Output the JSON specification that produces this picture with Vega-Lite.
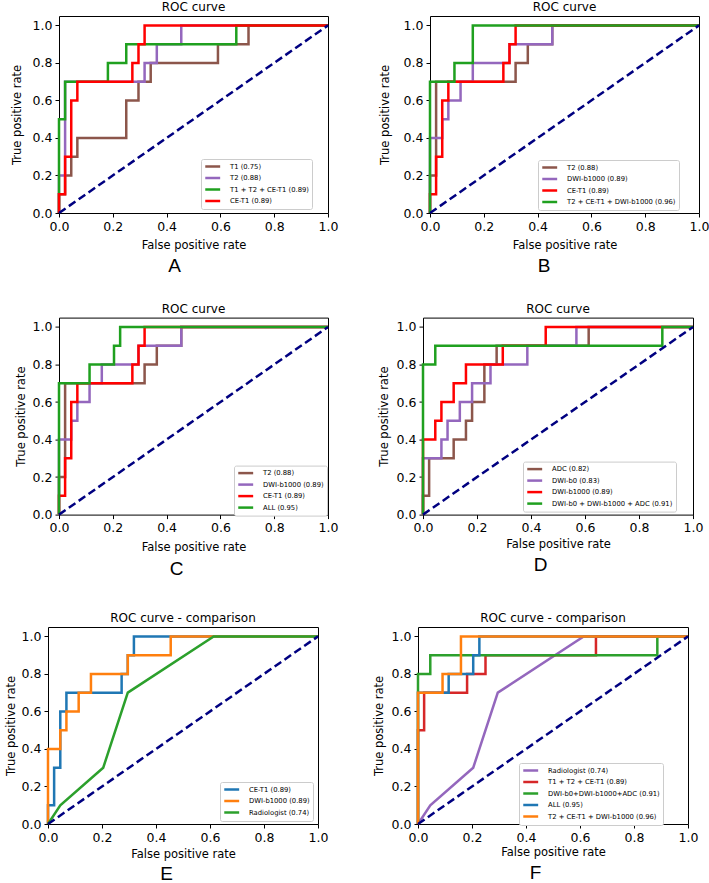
{
"$schema": "https://vega.github.io/schema/vega-lite/v6.json",
"padding": {"left": 0, "top": 0, "right": 0, "bottom": 0},
"background": "white",
"config": {
  "view": {"stroke": "black", "strokeWidth": 1},
  "font": "DejaVu Sans",
  "title": {"font": "DejaVu Sans", "fontSize": 12, "fontWeight": "normal", "color": "black", "offset": 2},
  "axis": {"domain": false, "grid": false, "tickColor": "black", "tickSize": 4, "tickWidth": 1, "labelColor": "black", "labelFont": "DejaVu Sans", "labelFontSize": 12.5, "labelFlush": false, "labelOverlap": false, "labelPadding": 3, "titleFont": "DejaVu Sans", "titleFontSize": 11.5, "titleFontWeight": "normal", "titleColor": "black"},
  "legend": {"orient": "none", "labelFont": "DejaVu Sans", "labelFontSize": 6.8, "labelColor": "black", "strokeColor": "#cccccc", "fillColor": "white", "padding": 3, "cornerRadius": 2, "rowPadding": 0.5, "symbolType": "M-1,0H3.6", "symbolSize": 42, "symbolStrokeWidth": 2.5, "labelOffset": 17, "labelLimit": 300},
  "line": {"strokeWidth": 2.5}
},
"datasets": {
  "T1": [{"fpr":0,"tpr":0},{"fpr":0,"tpr":0.1},{"fpr":0.0227,"tpr":0.1},{"fpr":0.0227,"tpr":0.2},{"fpr":0.0455,"tpr":0.2},{"fpr":0.0455,"tpr":0.3},{"fpr":0.0682,"tpr":0.3},{"fpr":0.0682,"tpr":0.4},{"fpr":0.25,"tpr":0.4},{"fpr":0.25,"tpr":0.6},{"fpr":0.2955,"tpr":0.6},{"fpr":0.2955,"tpr":0.7},{"fpr":0.3409,"tpr":0.7},{"fpr":0.3409,"tpr":0.8},{"fpr":0.5909,"tpr":0.8},{"fpr":0.5909,"tpr":0.9},{"fpr":0.7045,"tpr":0.9},{"fpr":0.7045,"tpr":1},{"fpr":1,"tpr":1}],
  "T2": [{"fpr":0,"tpr":0},{"fpr":0,"tpr":0.2},{"fpr":0.0227,"tpr":0.2},{"fpr":0.0227,"tpr":0.7},{"fpr":0.3182,"tpr":0.7},{"fpr":0.3182,"tpr":0.8},{"fpr":0.3636,"tpr":0.8},{"fpr":0.3636,"tpr":0.9},{"fpr":0.4545,"tpr":0.9},{"fpr":0.4545,"tpr":1},{"fpr":1,"tpr":1}],
  "CET1": [{"fpr":0,"tpr":0},{"fpr":0,"tpr":0.1},{"fpr":0.0227,"tpr":0.1},{"fpr":0.0227,"tpr":0.3},{"fpr":0.0455,"tpr":0.3},{"fpr":0.0455,"tpr":0.6},{"fpr":0.0682,"tpr":0.6},{"fpr":0.0682,"tpr":0.7},{"fpr":0.2727,"tpr":0.7},{"fpr":0.2727,"tpr":0.8},{"fpr":0.2955,"tpr":0.8},{"fpr":0.2955,"tpr":0.9},{"fpr":0.3182,"tpr":0.9},{"fpr":0.3182,"tpr":1},{"fpr":1,"tpr":1}],
  "T1T2CET1": [{"fpr":0,"tpr":0},{"fpr":0,"tpr":0.5},{"fpr":0.0227,"tpr":0.5},{"fpr":0.0227,"tpr":0.7},{"fpr":0.1818,"tpr":0.7},{"fpr":0.1818,"tpr":0.8},{"fpr":0.25,"tpr":0.8},{"fpr":0.25,"tpr":0.9},{"fpr":0.6591,"tpr":0.9},{"fpr":0.6591,"tpr":1},{"fpr":1,"tpr":1}],
  "B1000": [{"fpr":0,"tpr":0},{"fpr":0,"tpr":0.4},{"fpr":0.0455,"tpr":0.4},{"fpr":0.0455,"tpr":0.5},{"fpr":0.0682,"tpr":0.5},{"fpr":0.0682,"tpr":0.6},{"fpr":0.1136,"tpr":0.6},{"fpr":0.1136,"tpr":0.7},{"fpr":0.1591,"tpr":0.7},{"fpr":0.1591,"tpr":0.8},{"fpr":0.2955,"tpr":0.8},{"fpr":0.2955,"tpr":0.9},{"fpr":0.4545,"tpr":0.9},{"fpr":0.4545,"tpr":1},{"fpr":1,"tpr":1}],
  "T2CEB1000": [{"fpr":0,"tpr":0},{"fpr":0,"tpr":0.7},{"fpr":0.0909,"tpr":0.7},{"fpr":0.0909,"tpr":0.8},{"fpr":0.1591,"tpr":0.8},{"fpr":0.1591,"tpr":1},{"fpr":1,"tpr":1}],
  "ALL": [{"fpr":0,"tpr":0},{"fpr":0,"tpr":0.7},{"fpr":0.1136,"tpr":0.7},{"fpr":0.1136,"tpr":0.8},{"fpr":0.2045,"tpr":0.8},{"fpr":0.2045,"tpr":0.9},{"fpr":0.2273,"tpr":0.9},{"fpr":0.2273,"tpr":1},{"fpr":1,"tpr":1}],
  "ADC": [{"fpr":0,"tpr":0},{"fpr":0,"tpr":0.1},{"fpr":0.0227,"tpr":0.1},{"fpr":0.0227,"tpr":0.3},{"fpr":0.1136,"tpr":0.3},{"fpr":0.1136,"tpr":0.4},{"fpr":0.1591,"tpr":0.4},{"fpr":0.1591,"tpr":0.5},{"fpr":0.1818,"tpr":0.5},{"fpr":0.1818,"tpr":0.6},{"fpr":0.2273,"tpr":0.6},{"fpr":0.2273,"tpr":0.8},{"fpr":0.2727,"tpr":0.8},{"fpr":0.2727,"tpr":0.9},{"fpr":0.6136,"tpr":0.9},{"fpr":0.6136,"tpr":1},{"fpr":1,"tpr":1}],
  "B0": [{"fpr":0,"tpr":0},{"fpr":0,"tpr":0.3},{"fpr":0.0682,"tpr":0.3},{"fpr":0.0682,"tpr":0.4},{"fpr":0.0909,"tpr":0.4},{"fpr":0.0909,"tpr":0.5},{"fpr":0.1364,"tpr":0.5},{"fpr":0.1364,"tpr":0.6},{"fpr":0.1818,"tpr":0.6},{"fpr":0.1818,"tpr":0.7},{"fpr":0.25,"tpr":0.7},{"fpr":0.25,"tpr":0.8},{"fpr":0.3864,"tpr":0.8},{"fpr":0.3864,"tpr":0.9},{"fpr":0.5682,"tpr":0.9},{"fpr":0.5682,"tpr":1},{"fpr":1,"tpr":1}],
  "DWICOMB": [{"fpr":0,"tpr":0},{"fpr":0,"tpr":0.8},{"fpr":0.0455,"tpr":0.8},{"fpr":0.0455,"tpr":0.9},{"fpr":0.8864,"tpr":0.9},{"fpr":0.8864,"tpr":1},{"fpr":1,"tpr":1}],
  "RAD": [{"fpr":0,"tpr":0},{"fpr":0.0455,"tpr":0.1},{"fpr":0.2045,"tpr":0.3},{"fpr":0.2955,"tpr":0.7},{"fpr":0.6136,"tpr":1},{"fpr":1,"tpr":1}],
  "DIAG": [{"fpr":0,"tpr":0},{"fpr":1,"tpr":1}]
},
"resolve": {"scale": {"color": "independent"}, "legend": {"color": "independent"}},
"spacing": 32,
"vconcat": [
 {"resolve": {"scale": {"color": "independent"}, "legend": {"color": "independent"}},
  "spacing": 25.6,
  "vconcat": [
   {"resolve": {"scale": {"color": "independent"}, "legend": {"color": "independent"}},
    "spacing": 9,
    "hconcat": [
     {"width": 1, "height": 1, "data": {"values": []}, "mark": "point", "encoding": {}, "view": {"stroke": null}},
     {"resolve": {"scale": {"color": "independent"}, "legend": {"color": "independent"}},
      "spacing": 39,
      "hconcat": [
       {"title": {"text": "A", "orient": "bottom", "anchor": "middle", "font": "Liberation Sans", "fontSize": 19, "fontWeight": "normal", "offset": 5},
        "resolve": {"scale": {"color": "independent"}, "legend": {"color": "independent"}},
        "vconcat": [{
         "title": "ROC curve", "width": 269, "height": 197,
         "encoding": {
          "x": {"field": "fpr", "type": "quantitative", "scale": {"domain": [0, 1], "nice": false, "zero": false}, "axis": {"title": "False positive rate", "values": [0, 0.2, 0.4, 0.6, 0.8, 1], "format": ".1f", "titlePadding": 7.4}},
          "y": {"field": "tpr", "type": "quantitative", "scale": {"domain": [0, 1.05], "nice": false}, "axis": {"title": "True positive rate", "values": [0, 0.2, 0.4, 0.6, 0.8, 1], "format": ".1f", "titlePadding": 10}},
          "order": {"value": null}
         },
         "layer": [
          {"data": {"name": "T1"}, "mark": "line", "encoding": {"color": {"datum": "T1 (0.75)", "type": "nominal", "scale": {"domain": ["T1 (0.75)", "T2 (0.88)", "T1 + T2 + CE-T1 (0.89)", "CE-T1 (0.89)"], "range": ["#8c564b", "#9467bd", "#1fa01f", "#ff0000"]}, "legend": {"title": null, "legendX": 142, "legendY": 143}}}},
          {"data": {"name": "T2"}, "mark": "line", "encoding": {"color": {"datum": "T2 (0.88)", "type": "nominal"}}},
          {"data": {"name": "T1T2CET1"}, "mark": "line", "encoding": {"color": {"datum": "T1 + T2 + CE-T1 (0.89)", "type": "nominal"}}},
          {"data": {"name": "CET1"}, "mark": "line", "encoding": {"color": {"datum": "CE-T1 (0.89)", "type": "nominal"}}},
          {"data": {"name": "DIAG"}, "mark": {"type": "line", "strokeDash": [8, 4]}, "encoding": {"color": {"value": "#000080"}}}
         ]
        }]
       },
       {"title": {"text": "B", "orient": "bottom", "anchor": "middle", "font": "Liberation Sans", "fontSize": 19, "fontWeight": "normal", "offset": 5},
        "resolve": {"scale": {"color": "independent"}, "legend": {"color": "independent"}},
        "vconcat": [{
         "title": "ROC curve", "width": 269, "height": 197,
         "encoding": {
          "x": {"field": "fpr", "type": "quantitative", "scale": {"domain": [0, 1], "nice": false, "zero": false}, "axis": {"title": "False positive rate", "values": [0, 0.2, 0.4, 0.6, 0.8, 1], "format": ".1f", "titlePadding": 7.4}},
          "y": {"field": "tpr", "type": "quantitative", "scale": {"domain": [0, 1.05], "nice": false}, "axis": {"title": "True positive rate", "values": [0, 0.2, 0.4, 0.6, 0.8, 1], "format": ".1f", "titlePadding": 13}},
          "order": {"value": null}
         },
         "layer": [
          {"data": {"name": "T2"}, "mark": "line", "encoding": {"color": {"datum": "T2 (0.88)", "type": "nominal", "scale": {"domain": ["T2 (0.88)", "DWI-b1000 (0.89)", "CE-T1 (0.89)", "T2 + CE-T1 + DWI-b1000 (0.96)"], "range": ["#8c564b", "#9467bd", "#ff0000", "#1fa01f"]}, "legend": {"title": null, "legendX": 108, "legendY": 144}}}},
          {"data": {"name": "B1000"}, "mark": "line", "encoding": {"color": {"datum": "DWI-b1000 (0.89)", "type": "nominal"}}},
          {"data": {"name": "CET1"}, "mark": "line", "encoding": {"color": {"datum": "CE-T1 (0.89)", "type": "nominal"}}},
          {"data": {"name": "T2CEB1000"}, "mark": "line", "encoding": {"color": {"datum": "T2 + CE-T1 + DWI-b1000 (0.96)", "type": "nominal"}}},
          {"data": {"name": "DIAG"}, "mark": {"type": "line", "strokeDash": [8, 4]}, "encoding": {"color": {"value": "#000080"}}}
         ]
        }]
       }
      ]
     }
    ]
   },
   {"resolve": {"scale": {"color": "independent"}, "legend": {"color": "independent"}},
    "spacing": 13,
    "hconcat": [
     {"width": 1, "height": 1, "data": {"values": []}, "mark": "point", "encoding": {}, "view": {"stroke": null}},
     {"resolve": {"scale": {"color": "independent"}, "legend": {"color": "independent"}},
      "spacing": 38,
      "hconcat": [
       {"title": {"text": "C", "orient": "bottom", "anchor": "middle", "font": "Liberation Sans", "fontSize": 19, "fontWeight": "normal", "offset": 6},
        "resolve": {"scale": {"color": "independent"}, "legend": {"color": "independent"}},
        "vconcat": [{
         "title": "ROC curve", "width": 269, "height": 197,
         "encoding": {
          "x": {"field": "fpr", "type": "quantitative", "scale": {"domain": [0, 1], "nice": false, "zero": false}, "axis": {"title": "False positive rate", "values": [0, 0.2, 0.4, 0.6, 0.8, 1], "format": ".1f", "titlePadding": 7.7}},
          "y": {"field": "tpr", "type": "quantitative", "scale": {"domain": [0, 1.05], "nice": false}, "axis": {"title": "True positive rate", "values": [0, 0.2, 0.4, 0.6, 0.8, 1], "format": ".1f", "titlePadding": 6}},
          "order": {"value": null}
         },
         "layer": [
          {"data": {"name": "T2"}, "mark": "line", "encoding": {"color": {"datum": "T2 (0.88)", "type": "nominal", "scale": {"domain": ["T2 (0.88)", "DWI-b1000 (0.89)", "CE-T1 (0.89)", "ALL (0.95)"], "range": ["#8c564b", "#9467bd", "#ff0000", "#1fa01f"]}, "legend": {"title": null, "legendX": 175, "legendY": 148}}}},
          {"data": {"name": "B1000"}, "mark": "line", "encoding": {"color": {"datum": "DWI-b1000 (0.89)", "type": "nominal"}}},
          {"data": {"name": "CET1"}, "mark": "line", "encoding": {"color": {"datum": "CE-T1 (0.89)", "type": "nominal"}}},
          {"data": {"name": "ALL"}, "mark": "line", "encoding": {"color": {"datum": "ALL (0.95)", "type": "nominal"}}},
          {"data": {"name": "DIAG"}, "mark": {"type": "line", "strokeDash": [8, 4]}, "encoding": {"color": {"value": "#000080"}}}
         ]
        }]
       },
       {"title": {"text": "D", "orient": "bottom", "anchor": "middle", "font": "Liberation Sans", "fontSize": 19, "fontWeight": "normal", "offset": 6},
        "resolve": {"scale": {"color": "independent"}, "legend": {"color": "independent"}},
        "vconcat": [{
         "title": "ROC curve", "width": 270, "height": 197,
         "encoding": {
          "x": {"field": "fpr", "type": "quantitative", "scale": {"domain": [0, 1], "nice": false, "zero": false}, "axis": {"title": "False positive rate", "values": [0, 0.2, 0.4, 0.6, 0.8, 1], "format": ".1f", "titlePadding": 4.3}},
          "y": {"field": "tpr", "type": "quantitative", "scale": {"domain": [0, 1.05], "nice": false}, "axis": {"title": "True positive rate", "values": [0, 0.2, 0.4, 0.6, 0.8, 1], "format": ".1f", "titlePadding": 7}},
          "order": {"value": null}
         },
         "layer": [
          {"data": {"name": "ADC"}, "mark": "line", "encoding": {"color": {"datum": "ADC (0.82)", "type": "nominal", "scale": {"domain": ["ADC (0.82)", "DWI-b0 (0.83)", "DWI-b1000 (0.89)", "DWI-b0 + DWI-b1000 + ADC (0.91)"], "range": ["#8c564b", "#9467bd", "#ff0000", "#1fa01f"]}, "legend": {"title": null, "legendX": 100, "legendY": 144}}}},
          {"data": {"name": "B0"}, "mark": "line", "encoding": {"color": {"datum": "DWI-b0 (0.83)", "type": "nominal"}}},
          {"data": {"name": "B1000"}, "mark": "line", "encoding": {"color": {"datum": "DWI-b1000 (0.89)", "type": "nominal"}}},
          {"data": {"name": "DWICOMB"}, "mark": "line", "encoding": {"color": {"datum": "DWI-b0 + DWI-b1000 + ADC (0.91)", "type": "nominal"}}},
          {"data": {"name": "DIAG"}, "mark": {"type": "line", "strokeDash": [8, 4]}, "encoding": {"color": {"value": "#000080"}}}
         ]
        }]
       }
      ]
     }
    ]
   }
  ]
 },
 {"resolve": {"scale": {"color": "independent"}, "legend": {"color": "independent"}},
  "spacing": 3,
  "hconcat": [
   {"width": 1, "height": 1, "data": {"values": []}, "mark": "point", "encoding": {}, "view": {"stroke": null}},
   {"resolve": {"scale": {"color": "independent"}, "legend": {"color": "independent"}},
    "spacing": 43,
    "hconcat": [
     {"title": {"text": "E", "orient": "bottom", "anchor": "middle", "font": "Liberation Sans", "fontSize": 19, "fontWeight": "normal", "offset": 5},
      "resolve": {"scale": {"color": "independent"}, "legend": {"color": "independent"}},
      "vconcat": [{
       "title": "ROC curve - comparison", "width": 270, "height": 197,
       "encoding": {
        "x": {"field": "fpr", "type": "quantitative", "scale": {"domain": [0, 1], "nice": false, "zero": false}, "axis": {"title": "False positive rate", "values": [0, 0.2, 0.4, 0.6, 0.8, 1], "format": ".1f", "titlePadding": 4.7}},
        "y": {"field": "tpr", "type": "quantitative", "scale": {"domain": [0, 1.05], "nice": false}, "axis": {"title": "True positive rate", "values": [0, 0.2, 0.4, 0.6, 0.8, 1], "format": ".1f", "titlePadding": 5}},
        "order": {"value": null}
       },
       "layer": [
        {"data": {"name": "CET1"}, "mark": "line", "encoding": {"color": {"datum": "CE-T1 (0.89)", "type": "nominal", "scale": {"domain": ["CE-T1 (0.89)", "DWI-b1000 (0.89)", "Radiologist (0.74)"], "range": ["#1f77b4", "#ff7f0e", "#2ca02c"]}, "legend": {"title": null, "legendX": 172, "legendY": 155}}}},
        {"data": {"name": "B1000"}, "mark": "line", "encoding": {"color": {"datum": "DWI-b1000 (0.89)", "type": "nominal"}}},
        {"data": {"name": "RAD"}, "mark": "line", "encoding": {"color": {"datum": "Radiologist (0.74)", "type": "nominal"}}},
        {"data": {"name": "DIAG"}, "mark": {"type": "line", "strokeDash": [8, 4]}, "encoding": {"color": {"value": "#000080"}}}
       ]
      }]
     },
     {"title": {"text": "F", "orient": "bottom", "anchor": "middle", "font": "Liberation Sans", "fontSize": 19, "fontWeight": "normal", "offset": 5},
      "resolve": {"scale": {"color": "independent"}, "legend": {"color": "independent"}},
      "vconcat": [{
       "title": "ROC curve - comparison", "width": 270, "height": 197,
       "encoding": {
        "x": {"field": "fpr", "type": "quantitative", "scale": {"domain": [0, 1], "nice": false, "zero": false}, "axis": {"title": "False positive rate", "values": [0, 0.2, 0.4, 0.6, 0.8, 1], "format": ".1f", "titlePadding": 3.4}},
        "y": {"field": "tpr", "type": "quantitative", "scale": {"domain": [0, 1.05], "nice": false}, "axis": {"title": "True positive rate", "values": [0, 0.2, 0.4, 0.6, 0.8, 1], "format": ".1f", "titlePadding": 7}},
        "order": {"value": null}
       },
       "layer": [
        {"data": {"name": "RAD"}, "mark": "line", "encoding": {"color": {"datum": "Radiologist (0.74)", "type": "nominal", "scale": {"domain": ["Radiologist (0.74)", "T1 + T2 + CE-T1 (0.89)", "DWI-b0+DWI-b1000+ADC (0.91)", "ALL (0.95)", "T2 + CE-T1 + DWI-b1000 (0.96)"], "range": ["#9467bd", "#d62728", "#2ca02c", "#1f77b4", "#ff7f0e"]}, "legend": {"title": null, "legendX": 101, "legendY": 136}}}},
        {"data": {"name": "T1T2CET1"}, "mark": "line", "encoding": {"color": {"datum": "T1 + T2 + CE-T1 (0.89)", "type": "nominal"}}},
        {"data": {"name": "DWICOMB"}, "mark": "line", "encoding": {"color": {"datum": "DWI-b0+DWI-b1000+ADC (0.91)", "type": "nominal"}}},
        {"data": {"name": "ALL"}, "mark": "line", "encoding": {"color": {"datum": "ALL (0.95)", "type": "nominal"}}},
        {"data": {"name": "T2CEB1000"}, "mark": "line", "encoding": {"color": {"datum": "T2 + CE-T1 + DWI-b1000 (0.96)", "type": "nominal"}}},
        {"data": {"name": "DIAG"}, "mark": {"type": "line", "strokeDash": [8, 4]}, "encoding": {"color": {"value": "#000080"}}}
       ]
      }]
     }
    ]
   }
  ]
 }
]
}
